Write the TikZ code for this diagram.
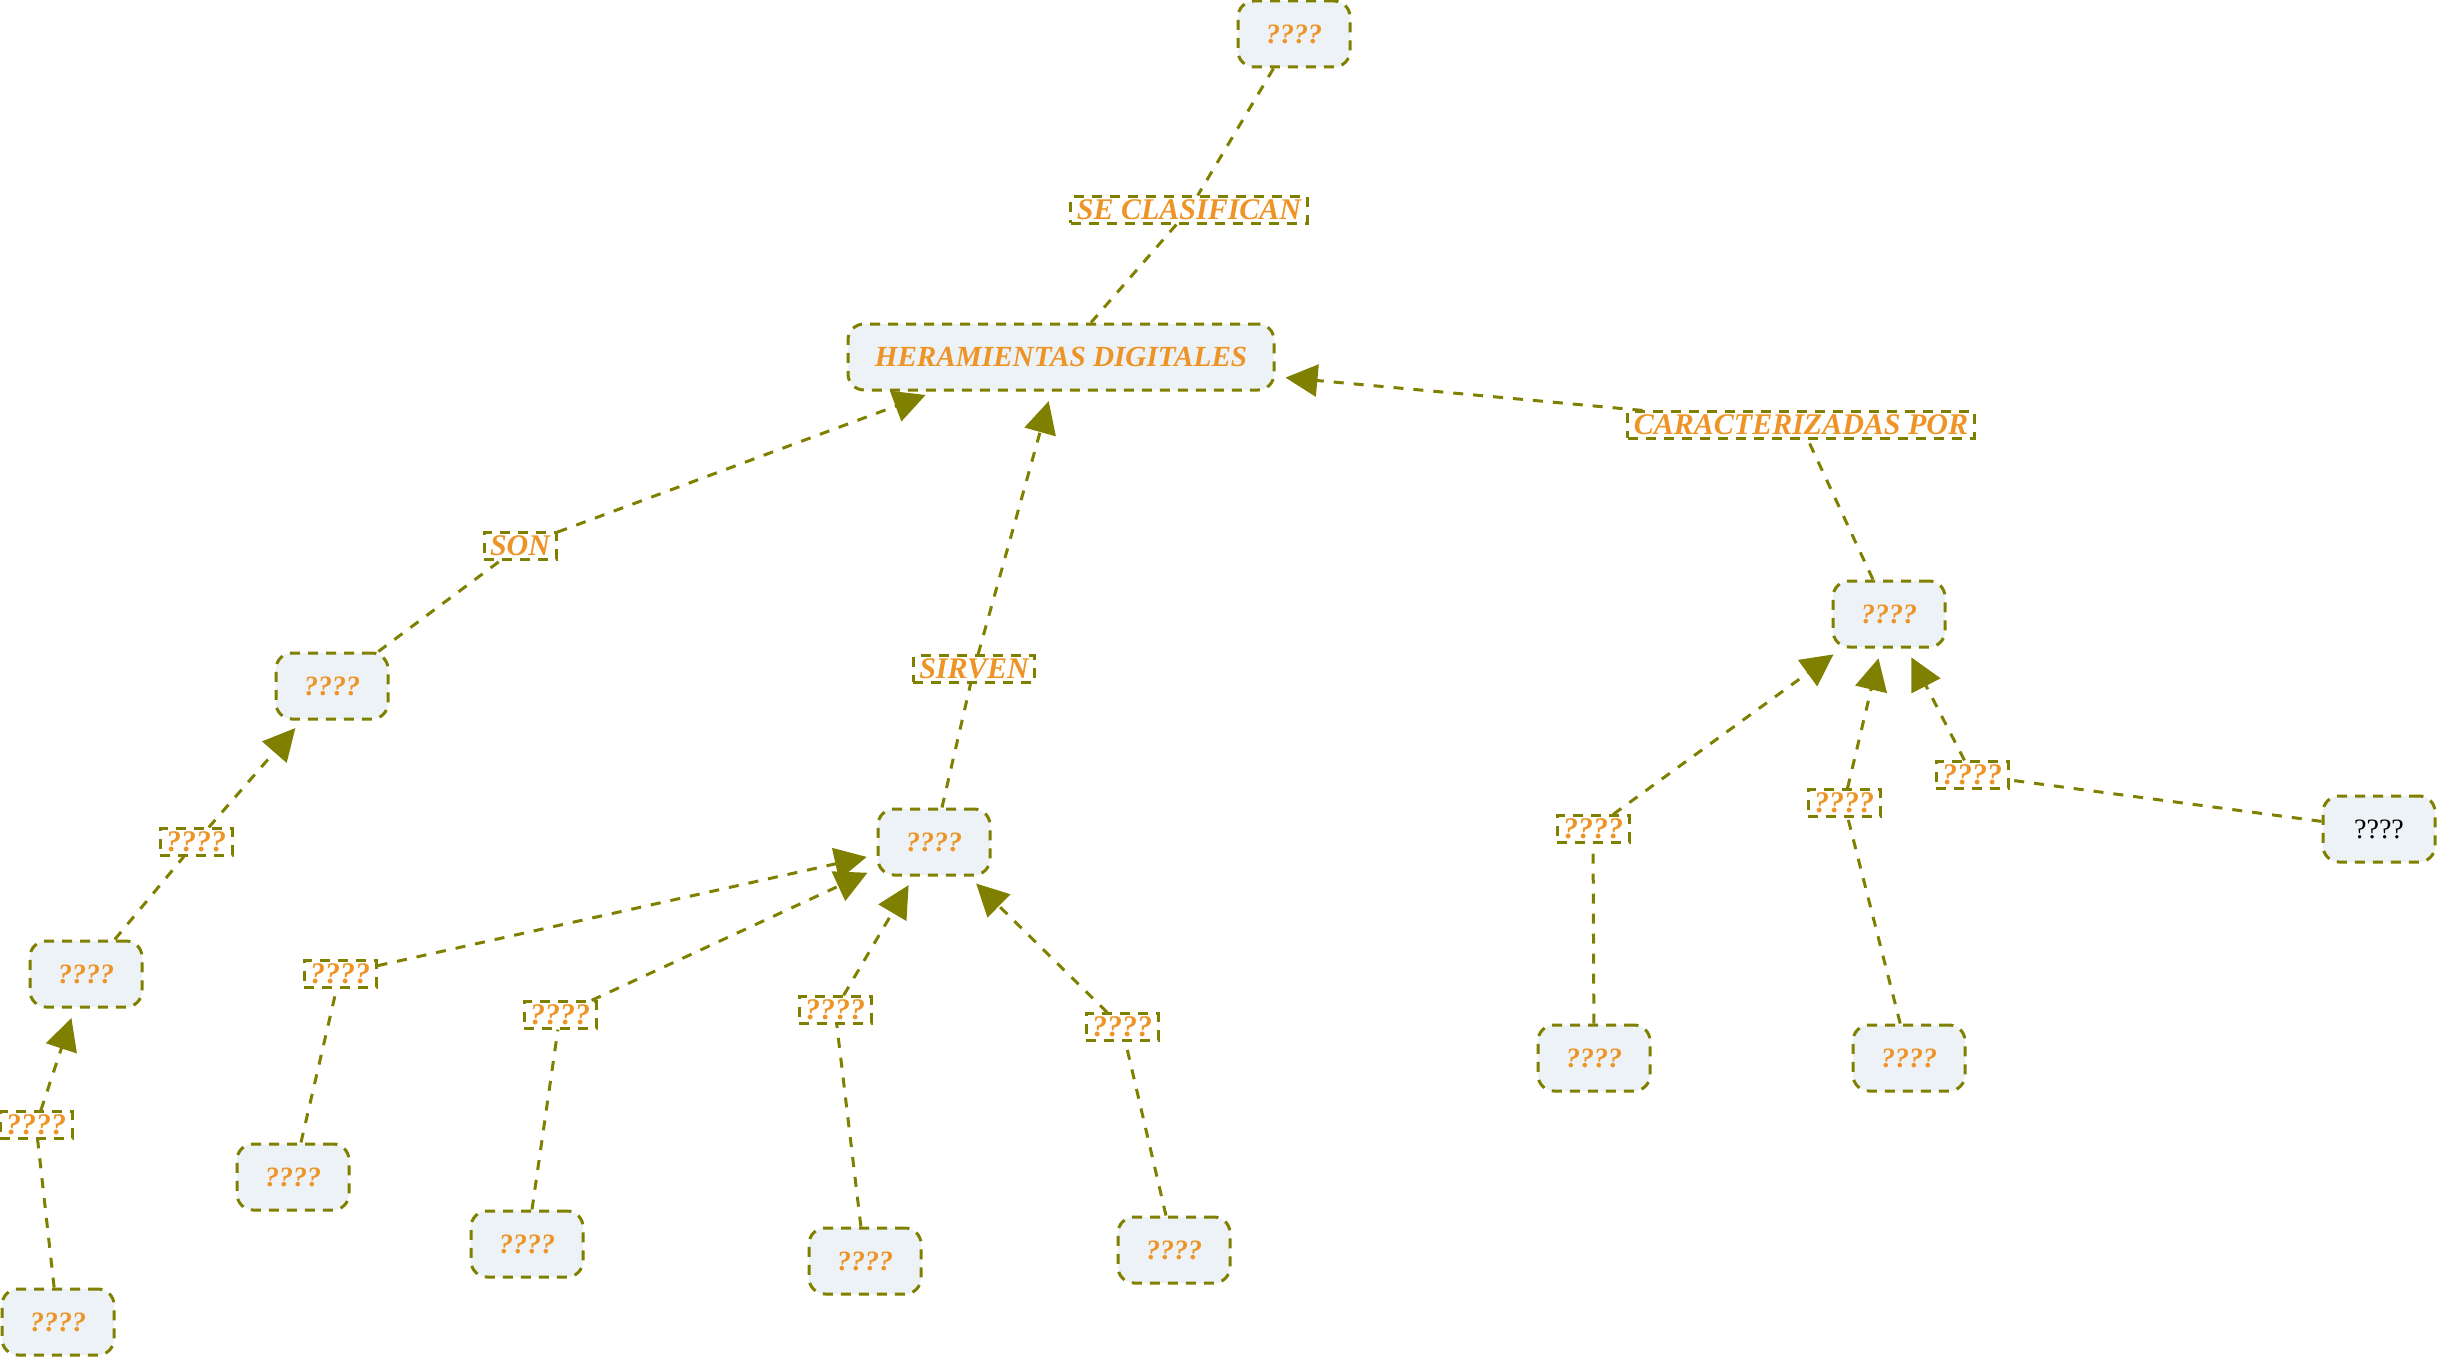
\documentclass[tikz,border=0pt]{standalone}
\usepackage{fontspec}
\setmainfont{Liberation Serif}
\usetikzlibrary{arrows.meta}
\definecolor{olivec}{RGB}{128,128,0}
\definecolor{orangec}{RGB}{238,148,38}
\definecolor{fillc}{RGB}{236,242,245}
\tikzset{
  concept/.style={draw=olivec, line width=1.5pt, dash pattern=on 5pt off 4pt, rounded corners=8pt, fill=fillc,
    minimum width=56pt, minimum height=33pt, inner sep=4pt, text=orangec, font=\fontsize{14}{16}\selectfont\bfseries\itshape},
  plain/.style={concept, text=black, font=\fontsize{14}{16}\selectfont},
  linkbox/.style={draw=olivec, line width=1.5pt, dash pattern=on 5pt off 4pt, fill=white,
    inner xsep=3pt, inner ysep=1.5pt, text=orangec, font=\fontsize{15}{17}\selectfont\bfseries\itshape},
  conn/.style={draw=olivec, line width=1.5pt, dash pattern=on 5pt off 5pt},
  arr/.style={conn, -{Triangle[length=16pt,width=16pt]}, shorten >=5pt},
}
\begin{document}
\begin{tikzpicture}[x=0.5pt,y=-0.5pt]
\useasboundingbox (0,0) rectangle (2444,1364);
% concepts
\node[concept] (top) at (1294,34) {????};
\node[concept, minimum width=213pt, font=\fontsize{14.6}{16}\selectfont\bfseries\itshape] (hd) at (1061,357) {HERAMIENTAS DIGITALES};
\node[concept] (n7) at (332,686) {????};
\node[concept] (n9) at (86,974) {????};
\node[concept] (n11) at (58,1322) {????};
\node[concept] (n12) at (934,842) {????};
\node[concept] (n14) at (293,1177) {????};
\node[concept] (n16) at (527,1244) {????};
\node[concept] (n18) at (865,1261) {????};
\node[concept] (n20) at (1174,1250) {????};
\node[concept] (n21) at (1889,614) {????};
\node[concept] (n23) at (1594,1058) {????};
\node[concept] (n25) at (1909,1058) {????};
\node[plain] (n27) at (2379,829) {????};
% link labels
\node[linkbox] (l3) at (1189,210) {SE CLASIFICAN};
\node[linkbox] (l4) at (1801,425) {CARACTERIZADAS POR};
\node[linkbox] (l5) at (520,546) {SON};
\node[linkbox] (l6) at (974,669) {SIRVEN};
\node[linkbox] (l8) at (196,842) {????};
\node[linkbox] (l10) at (36,1125) {????};
\node[linkbox] (l13) at (340,974) {????};
\node[linkbox] (l15) at (560,1015) {????};
\node[linkbox] (l17) at (835,1010) {????};
\node[linkbox] (l19) at (1122,1027) {????};
\node[linkbox] (l22) at (1593,829) {????};
\node[linkbox] (l24) at (1844,803) {????};
\node[linkbox] (l26) at (1972,775) {????};
\coordinate (hdin) at (hd.south -| 935,0);
% connectors
\draw[conn] (top) -- (l3);
\draw[conn] (l3) -- (hd);
\draw[conn] (n21) -- (l4);
\draw[arr] (l4) -- (hd);
\draw[conn] (n7) -- (l5);
\draw[arr] (l5) -- (hdin);
\draw[conn] (n12) -- (l6);
\draw[arr] (l6) -- (hd);
\draw[conn] (n9) -- (l8);
\draw[arr] (l8) -- (n7);
\draw[conn] (n11) -- (l10);
\draw[arr] (l10) -- (n9);
\draw[conn] (n14) -- (l13);
\draw[arr] (l13) -- (n12);
\draw[conn] (n16) -- (l15);
\draw[arr] (l15) -- (n12);
\draw[conn] (n18) -- (l17);
\draw[arr] (l17) -- (n12);
\draw[conn] (n20) -- (l19);
\draw[arr] (l19) -- (n12);
\draw[conn] (n23) -- (l22);
\draw[arr] (l22) -- (n21);
\draw[conn] (n25) -- (l24);
\draw[arr] (l24) -- (n21);
\draw[conn] (n27) -- (l26);
\draw[arr] (l26) -- (n21);
\end{tikzpicture}
\end{document}
